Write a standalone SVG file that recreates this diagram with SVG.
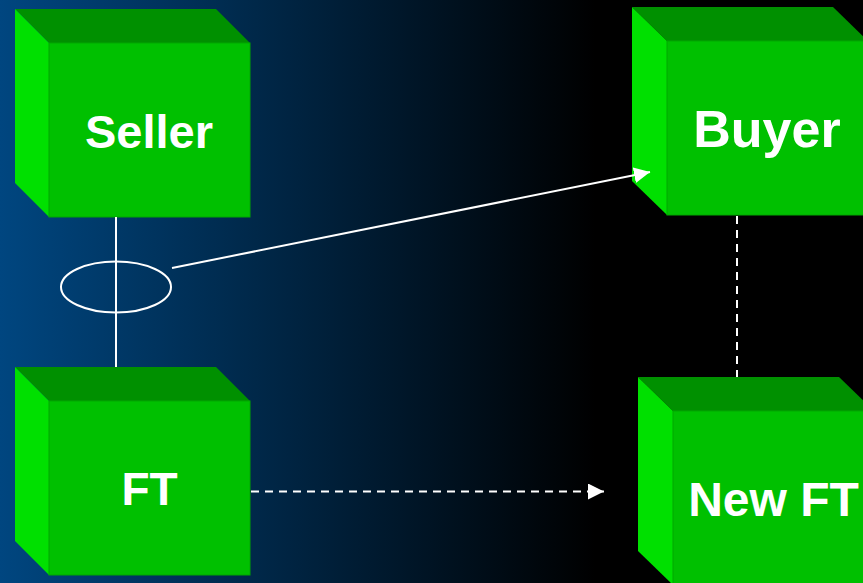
<svg xmlns="http://www.w3.org/2000/svg" width="863" height="583" viewBox="0 0 863 583">
  <defs>
    <linearGradient id="bg" x1="0" y1="0" x2="863" y2="0" gradientUnits="userSpaceOnUse">
      <stop offset="0" stop-color="#004680"/>
      <stop offset="0.69" stop-color="#000000"/>
      <stop offset="1" stop-color="#000000"/>
    </linearGradient>
    <marker id="arrow" viewBox="0 0 16 16" refX="16" refY="8" markerWidth="16" markerHeight="16" markerUnits="userSpaceOnUse" orient="auto">
      <path d="M0,0 L16,8 L0,16 Z" fill="#ffffff"/>
    </marker>
    <style>
      .front { fill: #00C000; stroke: #00A800; stroke-width: 1; }
      .top { fill: #009000; }
      .side { fill: #00E000; }
      .label { font-family: "Liberation Sans", Arial, sans-serif; font-weight: bold; fill: #ffffff; text-anchor: middle; }
      .line { stroke: #ffffff; stroke-width: 2; fill: none; }
      .dash { stroke: #ffffff; stroke-width: 2; fill: none; stroke-dasharray: 8 6; }
    </style>
  </defs>
  <rect x="0" y="0" width="863" height="583" fill="url(#bg)"/>

  <g id="seller">
    <polygon class="top" points="15,9 216,9 250,43 49,43"/>
    <polygon class="side" points="15,9 49,43 49,217 15,183"/>
    <rect class="front" x="49" y="43" width="201" height="174"/>
    <text class="label" x="149" y="148" font-size="47">Seller</text>
  </g>

  <g id="ft">
    <polygon class="top" points="15,367 216,367 250,401 49,401"/>
    <polygon class="side" points="15,367 49,401 49,575 15,541"/>
    <rect class="front" x="49" y="401" width="201" height="174"/>
    <text class="label" x="149.5" y="505" font-size="46">FT</text>
  </g>

  <g id="buyer">
    <polygon class="top" points="632,7 833,7 868,41 667,41"/>
    <polygon class="side" points="632,7 667,41 667,215 632,181"/>
    <rect class="front" x="667" y="41" width="201" height="174"/>
    <text class="label" x="767" y="147" font-size="52">Buyer</text>
  </g>

  <g id="newft">
    <polygon class="top" points="638,377 839,377 874,411 673,411"/>
    <polygon class="side" points="638,377 673,411 673,585 638,551"/>
    <rect class="front" x="673" y="411" width="201" height="174"/>
    <text class="label" x="773.5" y="516" font-size="48">New FT</text>
  </g>

  <g id="connectors">
    <line class="line" x1="116" y1="217" x2="116" y2="367"/>
    <ellipse class="line" cx="116" cy="287" rx="55" ry="25.5"/>
    <line class="line" x1="172" y1="268" x2="650" y2="172" marker-end="url(#arrow)"/>
    <line class="dash" x1="737" y1="216" x2="737" y2="377"/>
    <line class="dash" x1="251" y1="491.5" x2="604" y2="491.5" marker-end="url(#arrow)"/>
  </g>
</svg>
